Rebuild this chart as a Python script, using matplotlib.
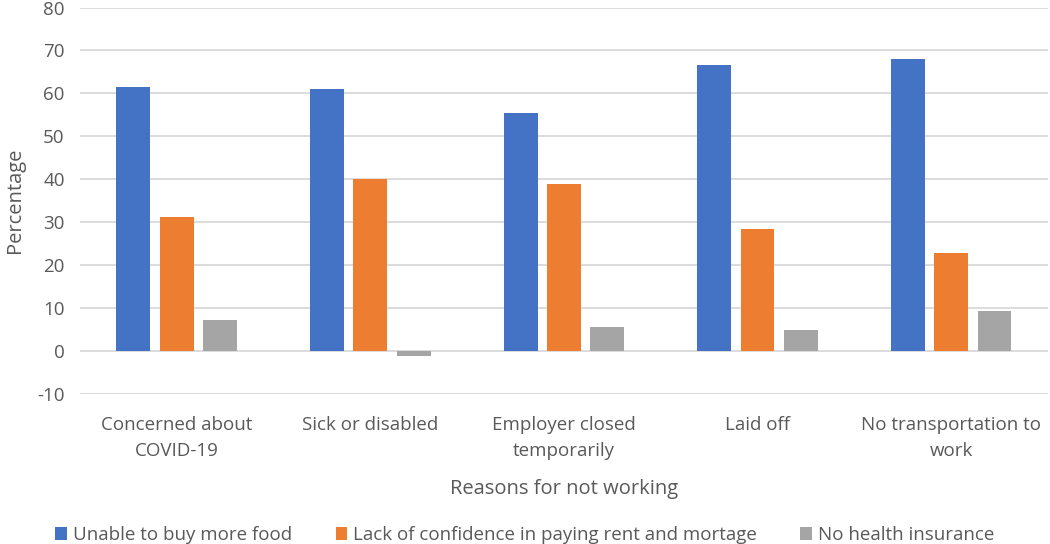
#!/usr/bin/env python3
"""Grouped bar chart: food / housing / insurance hardship by reason for not working."""

import matplotlib

matplotlib.use("Agg")

import matplotlib.pyplot as plt
import numpy as np
from matplotlib.patches import Patch


CATEGORIES = [
    "Concerned about\nCOVID-19",
    "Sick or disabled",
    "Employer closed\ntemporarily",
    "Laid off",
    "No transportation to\nwork",
]
SERIES_NAMES = [
    "Unable to buy more food",
    "Lack of confidence in paying rent and mortage",
    "No health insurance",
]
FOOD = [61.4, 61.0, 55.4, 66.7, 67.9]
RENT = [31.2, 40.0, 38.9, 28.4, 22.8]
INSURANCE = [7.2, -1.1, 5.5, 4.8, 9.3]
Y_TICKS = list(range(-10, 81, 10))

COLORS = ["#4472C4", "#ED7D31", "#A5A5A5"]
TEXT_GRAY = "#595959"
GRID_GRAY = "#D9D9D9"


def main() -> None:
    plt.rcParams.update({
        "font.family": ["Open Sans", "DejaVu Sans"],
        "font.size": 13,
        "axes.unicode_minus": False,
    })

    fig = plt.figure(figsize=(10.5, 5.44), dpi=100)
    ax = fig.add_axes([0.0762, 0.2757, 0.9218, 0.7105])

    x = np.arange(len(CATEGORIES))
    width = 0.175
    step = 0.224
    for i, (values, color) in enumerate(zip([FOOD, RENT, INSURANCE], COLORS)):
        ax.bar(x + (i - 1) * step, values, width=width, color=color,
               edgecolor="none", zorder=3)

    ax.set_xlim(-0.5, len(CATEGORIES) - 0.5)
    ax.set_ylim(-10, 80)
    ax.set_yticks(Y_TICKS)
    ax.set_xticks(x)
    ax.set_xticklabels(CATEGORIES, linespacing=1.55)
    ax.grid(axis="y", color=GRID_GRAY, linewidth=1.3, zorder=0)
    for spine in ax.spines.values():
        spine.set_visible(False)
    ax.tick_params(axis="both", length=0, colors=TEXT_GRAY, labelsize=13.5)
    ax.tick_params(axis="x", pad=16)
    ax.tick_params(axis="y", pad=11)

    ax.set_xlabel("Reasons for not working", color=TEXT_GRAY, fontsize=14.5, labelpad=14)
    ax.set_ylabel("Percentage", color=TEXT_GRAY, fontsize=14.5, labelpad=9)

    handles = [Patch(facecolor=c, edgecolor="none") for c in COLORS]
    fig.legend(handles, SERIES_NAMES, loc="lower center", bbox_to_anchor=(0.5, -0.031),
               ncol=3, frameon=False, fontsize=13.5, labelcolor=TEXT_GRAY,
               handlelength=0.6, handleheight=0.7, handletextpad=0.35, columnspacing=2.3)

    fig.savefig("out.png", dpi=100)
    plt.close(fig)


if __name__ == "__main__":
    main()
